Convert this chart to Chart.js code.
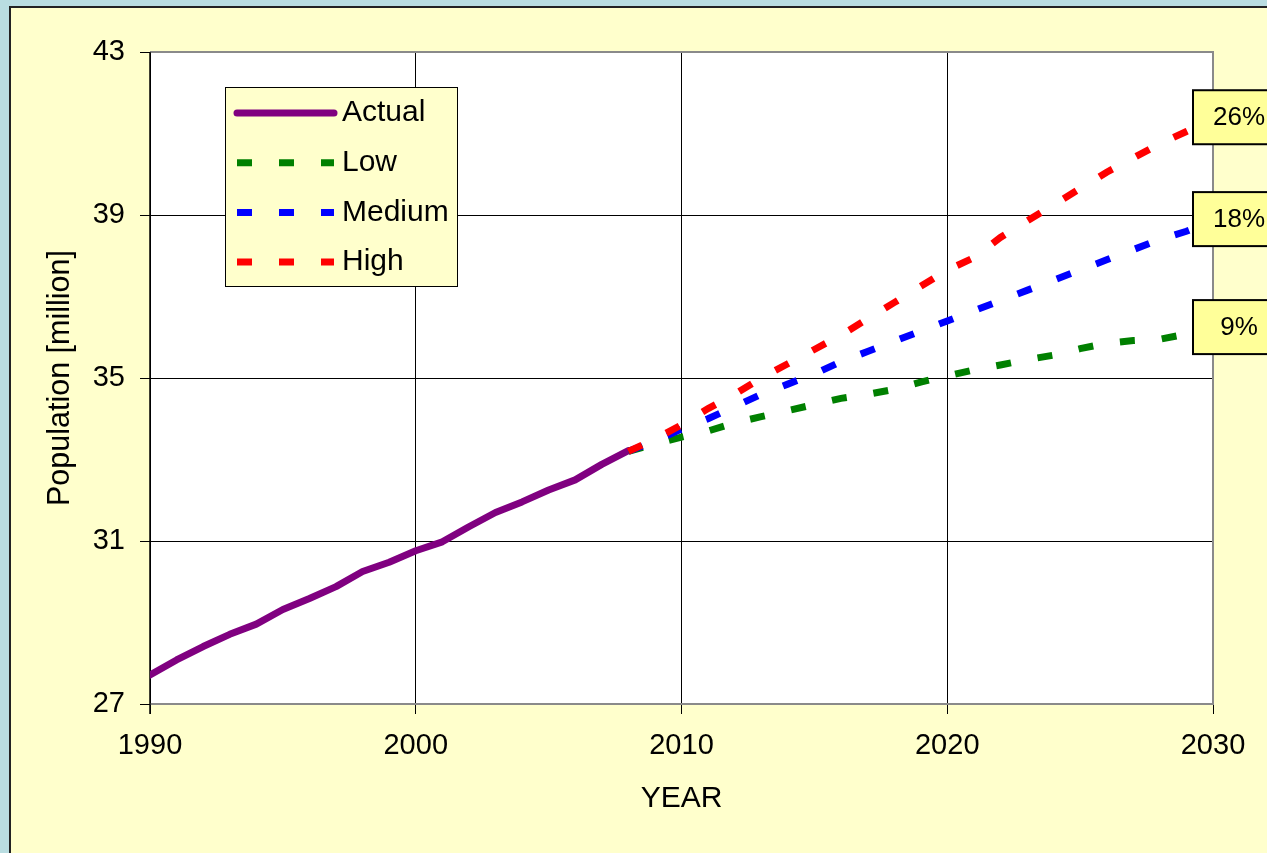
<!DOCTYPE html>
<html>
<head>
<meta charset="utf-8">
<script src="https://cdn.jsdelivr.net/npm/chart.js@4/dist/chart.umd.min.js"></script>
<style>
  html, body { margin: 0; padding: 0; background: #B9DDE1; width: 1267px; height: 853px; overflow: hidden; }
  #panel { position: absolute; left: 9px; top: 6px; width: 1300px; height: 900px; background: #FFFFCC; border: 2px solid #222; }
  #c { position: absolute; left: 0; top: 0; }
</style>
</head>
<body>
<div id="panel"></div>
<canvas id="c" width="1267" height="853"></canvas>
<script>
// ---- data ----
const actualYears = [1990,1991,1992,1993,1994,1995,1996,1997,1998,1999,2000,2001,2002,2003,2004,2005,2006,2007,2008];
const actualValues = [27.71,28.08,28.41,28.71,28.96,29.32,29.59,29.88,30.25,30.48,30.76,30.98,31.35,31.70,31.96,32.25,32.50,32.88,33.22];

const projYears = [2008,2009,2010,2011,2012,2013,2014,2015,2016,2017,2018,2019,2020,2021,2022,2023,2024,2025,2026,2027,2028,2029,2030];
const lowValues    = [33.2,33.38,33.55,33.7,33.9,34.05,34.2,34.35,34.5,34.6,34.72,34.9,35.05,35.2,35.32,35.45,35.56,35.72,35.85,35.92,35.95,36.08,36.2];
const mediumValues = [33.2,33.45,33.75,34.0,34.3,34.6,34.85,35.1,35.4,35.65,35.9,36.15,36.4,36.65,36.9,37.15,37.4,37.65,37.9,38.15,38.4,38.6,38.85];
const highValues   = [33.2,33.5,33.85,34.25,34.6,35.0,35.35,35.7,36.05,36.45,36.85,37.25,37.65,37.95,38.45,38.85,39.25,39.65,40.05,40.4,40.75,41.05,41.35];

const seriesNames = ['Actual','Low','Medium','High'];
const endLabels = {Low: '9%', Medium: '18%', High: '26%'};

const xMin = 1990, xMax = 2030, xStep = 10;
const yMin = 27, yMax = 43, yStep = 4;
const xTitle = 'YEAR';
const yTitle = 'Population [million]';

// ---- helpers ----
const pts = (xs, ys) => xs.map((x, i) => ({x: x, y: ys[i]}));
const FONT = '"Liberation Sans", Arial, sans-serif';

const bgPlugin = {
  id: 'bg',
  beforeDraw(chart) {
    const {ctx, chartArea: a} = chart;
    ctx.save();
    ctx.fillStyle = '#FFFFFF';
    ctx.fillRect(a.left, a.top, a.right - a.left, a.bottom - a.top);
    ctx.restore();
  },
  beforeDatasetsDraw(chart) {
    const {ctx, chartArea: a} = chart;
    ctx.save();
    ctx.strokeStyle = '#8A8A8A';
    ctx.lineWidth = 2;
    ctx.beginPath();
    ctx.moveTo(a.left, a.top); ctx.lineTo(a.right, a.top); ctx.lineTo(a.right, a.bottom); ctx.lineTo(a.left, a.bottom);
    ctx.stroke();
    ctx.strokeStyle = '#000000';
    ctx.lineWidth = 1.5;
    ctx.beginPath();
    ctx.moveTo(a.left, a.top); ctx.lineTo(a.left, a.bottom + 10);
    ctx.stroke();
    ctx.restore();
  },
  afterDatasetsDraw(chart) {
    const {ctx} = chart;
    const xs = chart.scales.x, ys = chart.scales.y;
    ctx.save();
    // end labels
    chart.data.datasets.forEach(ds => {
      const lab = endLabels[ds.label];
      if (!lab) return;
      const last = ds.data[ds.data.length - 1];
      const px = xs.getPixelForValue(last.x), py = ys.getPixelForValue(last.y) - 2;
      const bx = px - 20, bh = 54;
      ctx.fillStyle = '#FFFF99';
      ctx.fillRect(bx, py - bh / 2, 110, bh);
      ctx.strokeStyle = '#000';
      ctx.lineWidth = 2;
      ctx.strokeRect(bx, py - bh / 2, 110, bh);
      ctx.fillStyle = '#000';
      ctx.font = '26px ' + FONT;
      ctx.textAlign = 'center';
      ctx.textBaseline = 'middle';
      ctx.fillText(lab, bx + 46, py + 1);
    });
    // legend
    const L = 225, T = 87, W = 232, H = 199;
    ctx.fillStyle = '#FFFFCC';
    ctx.fillRect(L, T, W, H);
    ctx.strokeStyle = '#000';
    ctx.lineWidth = 1;
    ctx.strokeRect(L + 0.5, T + 0.5, W, H);
    seriesNames.forEach((name, i) => {
      const ds = chart.data.datasets.find(d => d.label === name);
      const cy = 113 + i * 49.7;
      ctx.strokeStyle = ds.borderColor;
      ctx.lineWidth = ds.borderWidth;
      ctx.lineCap = ds.borderCapStyle || 'butt';
      ctx.setLineDash(ds.borderDash || []);
      ctx.beginPath();
      ctx.moveTo(237, cy); ctx.lineTo(334, cy);
      ctx.stroke();
      ctx.setLineDash([]);
      ctx.fillStyle = '#000';
      ctx.font = '30px ' + FONT;
      ctx.textAlign = 'left';
      ctx.textBaseline = 'middle';
      ctx.fillText(name, 342, cy);
    });
    ctx.restore();
  }
};

const dashed = [15, 27];

new Chart(document.getElementById('c'), {
  type: 'line',
  data: {
    datasets: [
      { label: 'High', data: pts(projYears, highValues), borderColor: '#FF0000', borderWidth: 7, borderDash: dashed, borderCapStyle: 'butt', pointRadius: 0, tension: 0, order: 0 },
      { label: 'Medium', data: pts(projYears, mediumValues), borderColor: '#0000FF', borderWidth: 7, borderDash: dashed, borderCapStyle: 'butt', pointRadius: 0, tension: 0, order: 1 },
      { label: 'Low', data: pts(projYears, lowValues), borderColor: '#008000', borderWidth: 7, borderDash: dashed, borderCapStyle: 'butt', pointRadius: 0, tension: 0, order: 2 },
      { label: 'Actual', data: pts(actualYears, actualValues), borderColor: '#800080', borderWidth: 7, borderCapStyle: 'round', borderJoinStyle: 'round', pointRadius: 0, tension: 0, order: 3 }
    ]
  },
  options: {
    responsive: false,
    animation: false,
    devicePixelRatio: 1,
    layout: { padding: { left: 0, top: 52, right: 54, bottom: 0 } },
    plugins: { legend: { display: false }, tooltip: { enabled: false } },
    scales: {
      x: {
        type: 'linear', min: xMin, max: xMax,
        afterFit(s) { s.height = 149; },
        ticks: { stepSize: xStep, color: '#000', font: { family: FONT, size: 29 }, padding: 15, maxRotation: 0, callback: v => String(v) },
        grid: { color: '#000', lineWidth: 1, tickLength: 10, drawTicks: true },
        border: { display: false },
        title: { display: true, text: xTitle, color: '#000', font: { family: FONT, size: 30 }, padding: { top: 0, bottom: 36 } }
      },
      y: {
        type: 'linear', min: yMin, max: yMax,
        afterFit(s) { s.width = 150; },
        ticks: { stepSize: yStep, color: '#000', font: { family: FONT, size: 29 }, padding: 15 },
        grid: { color: '#000', lineWidth: 1, tickLength: 10, drawTicks: true },
        border: { display: false },
        title: { display: true, text: yTitle, color: '#000', font: { family: FONT, size: 30.5 }, padding: { top: 42, bottom: 0 } }
      }
    }
  },
  plugins: [bgPlugin]
});
</script>
</body>
</html>
